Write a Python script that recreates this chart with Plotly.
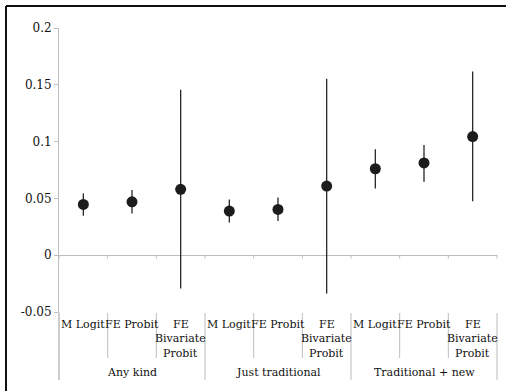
import plotly.graph_objects as go

# Estimation methods and outcome groups
methods = ["M Logit", "FE Probit", "FE\nBivariate\nProbit"]
groups = ["Any kind", "Just traditional", "Traditional + new"]

# Point estimates and 95% interval bounds, in method order within each group
estimate = [0.0447, 0.0470, 0.0580, 0.0388, 0.0403, 0.0609, 0.0761, 0.0812, 0.1044]
upper = [0.0544, 0.0573, 0.1456, 0.0491, 0.0509, 0.1553, 0.0932, 0.0970, 0.1617]
lower = [0.0347, 0.0368, -0.0294, 0.0288, 0.0300, -0.0338, 0.0588, 0.0647, 0.0474]

y_ticks = [-0.05, 0, 0.05, 0.1, 0.15, 0.2]
y_tick_text = ["-0.05", "0", "0.05", "0.1", "0.15", "0.2"]

W, H = 506, 391
L, R, T, B = 59, 9, 28, 79
PW, PH = W - L - R, H - T - B
AXIS_GREY = "#bdbdbd"
SERIF = "DejaVu Serif"
FS = 11

n = len(estimate)
xs = list(range(n))


def px_to_py(ypx):
    return (H - B - ypx) / PH


def px_to_px(xpx):
    return (xpx - L) / PW


fig = go.Figure()
fig.add_trace(go.Scatter(
    x=xs, y=estimate, mode="markers",
    marker=dict(size=11, color="#1c1c1c"),
    error_y=dict(type="data", symmetric=False,
                 array=[u - e for u, e in zip(upper, estimate)],
                 arrayminus=[e - lo for e, lo in zip(estimate, lower)],
                 width=0, thickness=1.3, color="#262626"),
    showlegend=False, hoverinfo="skip",
))

shapes = []
annotations = []

# tick marks below the zero line at every slot boundary
for i in range(n + 1):
    xp = i / n
    shapes.append(dict(type="line", xref="paper", yref="y", x0=xp, x1=xp,
                       y0=0, y1=-0.003, line=dict(color=AXIS_GREY, width=1)))

# category dividers in the label area (longer ones separate the groups)
y_top = px_to_py(313)
y_minor = px_to_py(358)
y_major = px_to_py(380)
for i in range(n + 1):
    xp = i / n
    y_end = y_major if i % len(methods) == 0 else y_minor
    shapes.append(dict(type="line", xref="paper", yref="paper", x0=xp, x1=xp,
                       y0=y_top, y1=y_end, line=dict(color=AXIS_GREY, width=1)))

# extend the value axis down through the label area
shapes.append(dict(type="line", xref="paper", yref="paper", x0=0, x1=0,
                   y0=0, y1=y_major, line=dict(color=AXIS_GREY, width=1)))

# method labels
line_y = [324, 338.5, 353]
for g in range(len(groups)):
    for m, name in enumerate(methods):
        i = g * len(methods) + m
        xc = (i + 0.5) / n
        for k, part in enumerate(name.split("\n")):
            annotations.append(dict(xref="paper", yref="paper", x=xc, y=px_to_py(line_y[k]),
                                    text=part, showarrow=False, xanchor="center", yanchor="middle",
                                    font=dict(family=SERIF, size=FS, color="#111")))
    xc = (g * len(methods) + len(methods) / 2) / n
    annotations.append(dict(xref="paper", yref="paper", x=xc, y=px_to_py(372.5),
                            text=groups[g], showarrow=False, xanchor="center", yanchor="middle",
                            font=dict(family=SERIF, size=FS, color="#111")))

# frame lines along the top and left edges of the figure
shapes.append(dict(type="line", xref="paper", yref="paper",
                   x0=px_to_px(6), x1=px_to_px(W + 2), y0=px_to_py(6), y1=px_to_py(6),
                   line=dict(color="#111", width=2)))
shapes.append(dict(type="line", xref="paper", yref="paper",
                   x0=px_to_px(6), x1=px_to_px(6), y0=px_to_py(6), y1=px_to_py(H + 2),
                   line=dict(color="#111", width=2)))

fig.update_layout(
    width=W, height=H,
    margin=dict(l=L, r=R, t=T, b=B, pad=0),
    paper_bgcolor="white", plot_bgcolor="white",
    font=dict(family=SERIF),
    xaxis=dict(range=[-0.5, n - 0.5], showticklabels=False, showgrid=False,
               zeroline=False, showline=False, ticks=""),
    yaxis=dict(range=[-0.05, 0.2], tickvals=y_ticks, ticktext=y_tick_text,
               showgrid=False, zeroline=True, zerolinecolor=AXIS_GREY, zerolinewidth=1,
               showline=True, linecolor=AXIS_GREY, linewidth=1,
               ticks="outside", ticklen=4, tickcolor=AXIS_GREY,
               tickfont=dict(family=SERIF, size=12, color="#111")),
    shapes=shapes,
    annotations=annotations,
)

fig.write_html("out.html")
